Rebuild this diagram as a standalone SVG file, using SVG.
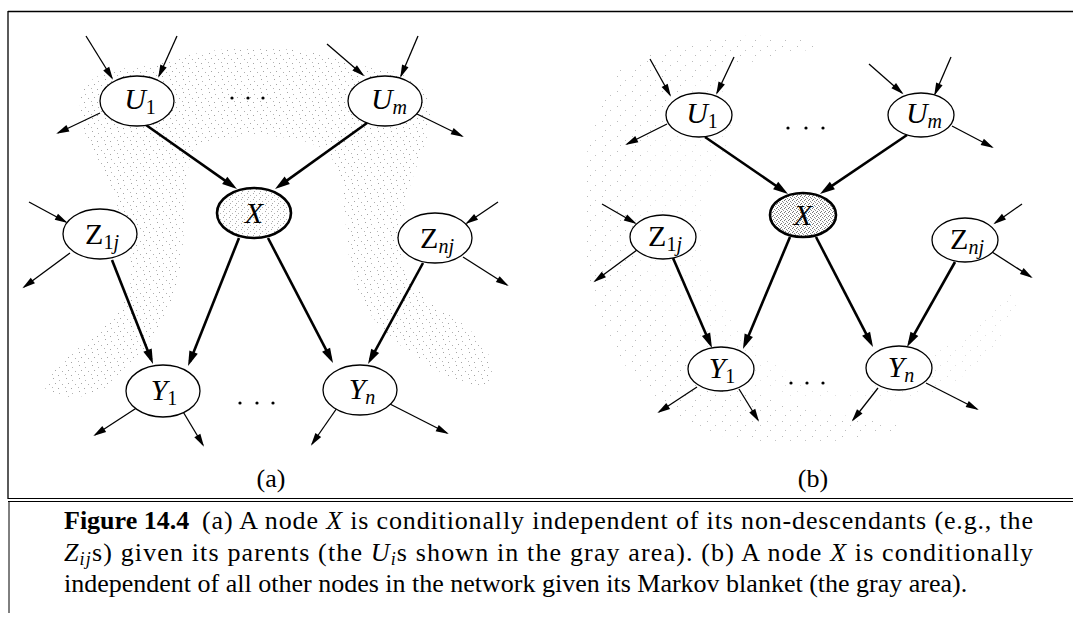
<svg xmlns="http://www.w3.org/2000/svg" width="1073" height="617" viewBox="0 0 1073 617">
<style>
.e{fill:#fff;stroke:#000;stroke-width:1.3}
.ex{stroke:#000;stroke-width:2.6}
.t{fill:none;stroke:#000;stroke-width:1.3;marker-end:url(#as)}
.k{fill:none;stroke:#000;stroke-width:2.6;marker-end:url(#al)}
.lbl{font-family:"Liberation Serif","Times New Roman",serif;font-size:30px;fill:#000}
.sub{font-size:20px}
.it{font-style:italic}
.cap{font-family:"Liberation Serif","Times New Roman",serif;font-size:26px;fill:#000}
.rule{stroke:#000;stroke-width:1.3;fill:none}
</style>
<defs>
<marker id="as" markerUnits="userSpaceOnUse" markerWidth="14" markerHeight="8" refX="11" refY="3.5" orient="auto" overflow="visible">
<path d="M0,0 L13,3.5 L0,7 z" fill="#000"/>
</marker>
<marker id="al" markerUnits="userSpaceOnUse" markerWidth="16" markerHeight="10" refX="10" refY="4.5" orient="auto" overflow="visible">
<path d="M0,0 L15,4.5 L0,9 z" fill="#000"/>
</marker>
<pattern id="pa" width="13" height="13" patternUnits="userSpaceOnUse">
<rect x="1" y="1" width="1" height="1" fill="#a5a5a5"/>
<rect x="7" y="3" width="1" height="1" fill="#b5b5b5"/>
<rect x="3" y="6" width="1" height="1" fill="#a5a5a5"/>
<rect x="10" y="7" width="1" height="1" fill="#b0b0b0"/>
<rect x="0" y="10" width="1" height="1" fill="#b5b5b5"/>
<rect x="6" y="11" width="1" height="1" fill="#a5a5a5"/>
</pattern>
<pattern id="pb" width="15" height="15" patternUnits="userSpaceOnUse">
<rect x="2" y="1" width="1" height="1" fill="#bbb"/>
<rect x="10" y="5" width="1" height="1" fill="#c2c2c2"/>
<rect x="5" y="10" width="1" height="1" fill="#bbb"/>
</pattern>
<pattern id="px" width="4" height="4" patternUnits="userSpaceOnUse">
<rect width="4" height="4" fill="#fff"/>
<rect x="0" y="0" width="1" height="1" fill="#777"/>
<rect x="2" y="1" width="1" height="1" fill="#888"/>
<rect x="1" y="3" width="1" height="1" fill="#777"/>
<rect x="3" y="2" width="1" height="1" fill="#999"/>
</pattern>
<pattern id="pxa" width="6" height="6" patternUnits="userSpaceOnUse">
<rect width="6" height="6" fill="#fff"/>
<rect x="1" y="1" width="1" height="1" fill="#aaa"/>
<rect x="4" y="3" width="1" height="1" fill="#b5b5b5"/>
<rect x="2" y="5" width="1" height="1" fill="#aaa"/>
</pattern>
</defs>

<!-- frame -->
<g id="frame">
<line class="rule" x1="8" y1="11.5" x2="1073" y2="11.5"/>
<line class="rule" x1="8" y1="11" x2="8" y2="499"/>
<line x1="8" y1="498.5" x2="1073" y2="498.5" stroke="#000" stroke-width="1"/>
<line x1="8" y1="501.5" x2="1073" y2="501.5" stroke="#000" stroke-width="1"/>
<line x1="9" y1="501" x2="9" y2="613" stroke="#000" stroke-width="1"/>
</g>

<!-- gray areas -->
<g id="gray-a">
<path fill="url(#pa)" d="M45,390 C50,360 100,340 125,300 C140,270 125,230 112,190 C100,160 82,140 80,110 C78,80 100,68 150,66 C175,62 185,50 250,48 C320,48 340,58 360,66 C410,70 432,85 430,120 C428,150 405,180 402,230 C400,270 410,290 450,315 C480,335 498,355 490,385 C470,390 430,370 400,345 C375,325 355,300 348,250 C343,200 345,170 325,150 C300,132 220,130 195,150 C180,170 190,220 178,280 C168,320 150,350 110,385 C90,400 60,400 45,390 Z"/>
</g>
<g id="gray-b">
<path fill="url(#pb)" d="M830,45 C780,30 680,30 620,70 C580,110 580,200 590,290 C600,350 650,400 700,430 C760,450 860,445 910,425 C870,420 800,410 760,395 C700,370 650,310 640,270 C620,200 640,120 700,80 C740,60 790,55 830,45 Z"/>
<path fill="url(#pb)" d="M640,60 C700,50 760,90 720,160 C700,200 690,260 740,330 C780,380 860,420 940,390 C1000,360 1030,300 1010,290 C980,320 900,400 800,400 C700,380 640,300 620,200 Z" opacity="0.5"/>
</g>

<!-- connectors -->
<g id="connectors">
<line class="k" x1="146" y1="125" x2="232.9" y2="186.1"/>
<line class="k" x1="367" y1="123" x2="279.1" y2="186.1"/>
<line class="k" x1="112" y1="260" x2="151.2" y2="359.4"/>
<line class="k" x1="239" y1="238" x2="189.9" y2="361.4"/>
<line class="k" x1="268" y1="238" x2="330.7" y2="358.6"/>
<line class="k" x1="423" y1="263" x2="370.4" y2="359.6"/>
<line class="t" x1="86" y1="36" x2="112" y2="78"/>
<line class="t" x1="177" y1="36" x2="159" y2="76"/>
<line class="t" x1="100" y1="113" x2="58" y2="133"/>
<line class="t" x1="327" y1="44" x2="363" y2="75"/>
<line class="t" x1="418" y1="36" x2="401" y2="76"/>
<line class="t" x1="417" y1="114" x2="462" y2="136"/>
<line class="t" x1="29" y1="202" x2="66" y2="222"/>
<line class="t" x1="70" y1="253" x2="24" y2="287"/>
<line class="t" x1="498" y1="202" x2="467" y2="223"/>
<line class="t" x1="463" y1="257" x2="507" y2="285"/>
<line class="t" x1="138" y1="407" x2="95" y2="435"/>
<line class="t" x1="182" y1="410" x2="203" y2="445"/>
<line class="t" x1="337" y1="408" x2="312" y2="444"/>
<line class="t" x1="388" y1="403" x2="447" y2="433"/>
<line class="k" x1="705" y1="137" x2="783.9" y2="191.2"/>
<line class="k" x1="907" y1="135" x2="824.1" y2="191.2"/>
<line class="k" x1="673" y1="258" x2="710" y2="343.4"/>
<line class="k" x1="790" y1="237" x2="744.9" y2="344.4"/>
<line class="k" x1="816" y1="237" x2="870.7" y2="342.6"/>
<line class="k" x1="955" y1="262" x2="909.5" y2="342.6"/>
<line class="t" x1="650" y1="59" x2="670" y2="95"/>
<line class="t" x1="734" y1="57" x2="717" y2="93"/>
<line class="t" x1="667" y1="124" x2="627" y2="144"/>
<line class="t" x1="869" y1="64" x2="902" y2="93"/>
<line class="t" x1="951" y1="57" x2="935" y2="94"/>
<line class="t" x1="952" y1="126" x2="992" y2="147"/>
<line class="t" x1="602" y1="204" x2="635" y2="223"/>
<line class="t" x1="637" y1="250" x2="595" y2="281"/>
<line class="t" x1="1022" y1="204" x2="995" y2="223"/>
<line class="t" x1="992" y1="252" x2="1031" y2="277"/>
<line class="t" x1="697" y1="387" x2="659" y2="412"/>
<line class="t" x1="739" y1="389" x2="758" y2="420"/>
<line class="t" x1="878" y1="388" x2="853" y2="420"/>
<line class="t" x1="926" y1="383" x2="977" y2="409"/>
</g>

<!-- panel a nodes -->
<g id="a-U1"><ellipse class="e" cx="137" cy="101" rx="37" ry="25"/>
<text class="lbl" x="140" y="109" text-anchor="middle"><tspan class="it">U</tspan><tspan class="sub" dy="5">1</tspan></text></g>
<g id="a-Um"><ellipse class="e" cx="385" cy="101" rx="37" ry="25"/>
<text class="lbl" x="389" y="109" text-anchor="middle"><tspan class="it">U</tspan><tspan class="sub it" dy="5">m</tspan></text></g>
<g id="a-X"><ellipse class="ex" fill="url(#pxa)" cx="254" cy="213" rx="37" ry="25"/>
<text class="lbl it" x="254" y="223" text-anchor="middle">X</text></g>
<g id="a-Z1j"><ellipse class="e" cx="100" cy="234" rx="37" ry="25"/>
<text class="lbl" x="102" y="244" text-anchor="middle">Z<tspan class="sub" dy="5">1</tspan><tspan class="sub it">j</tspan></text></g>
<g id="a-Znj"><ellipse class="e" cx="435" cy="238" rx="37" ry="25"/>
<text class="lbl" x="437" y="248" text-anchor="middle">Z<tspan class="sub it" dy="5">nj</tspan></text></g>
<g id="a-Y1"><ellipse class="e" cx="163" cy="391" rx="37" ry="26"/>
<text class="lbl" x="164" y="400" text-anchor="middle"><tspan class="it">Y</tspan><tspan class="sub" dy="5">1</tspan></text></g>
<g id="a-Yn"><ellipse class="e" cx="360" cy="390" rx="37" ry="25"/>
<text class="lbl" x="362" y="399" text-anchor="middle"><tspan class="it">Y</tspan><tspan class="sub it" dy="5">n</tspan></text></g>
<g id="a-dots" fill="#000">
<circle cx="232" cy="98" r="1.6"/><circle cx="248" cy="98" r="1.6"/><circle cx="263" cy="98" r="1.6"/>
<circle cx="240" cy="403" r="1.6"/><circle cx="257" cy="403" r="1.6"/><circle cx="273" cy="403" r="1.6"/>
</g>
<text class="cap" x="271" y="487" text-anchor="middle">(a)</text>

<!-- panel b nodes -->
<g id="b-U1"><ellipse class="e" cx="699" cy="115" rx="33" ry="22"/>
<text class="lbl" x="702" y="123" text-anchor="middle"><tspan class="it">U</tspan><tspan class="sub" dy="5">1</tspan></text></g>
<g id="b-Um"><ellipse class="e" cx="921" cy="115" rx="33" ry="22"/>
<text class="lbl" x="924" y="123" text-anchor="middle"><tspan class="it">U</tspan><tspan class="sub it" dy="5">m</tspan></text></g>
<g id="b-X"><ellipse class="ex" fill="url(#px)" cx="803" cy="215" rx="33" ry="22"/>
<text class="lbl it" x="803" y="225" text-anchor="middle">X</text></g>
<g id="b-Z1j"><ellipse class="e" cx="663" cy="237" rx="33" ry="22"/>
<text class="lbl" x="665" y="246" text-anchor="middle">Z<tspan class="sub" dy="5">1</tspan><tspan class="sub it">j</tspan></text></g>
<g id="b-Znj"><ellipse class="e" cx="965" cy="240" rx="33" ry="22"/>
<text class="lbl" x="967" y="249" text-anchor="middle">Z<tspan class="sub it" dy="5">nj</tspan></text></g>
<g id="b-Y1"><ellipse class="e" cx="721" cy="369" rx="33" ry="22"/>
<text class="lbl" x="722" y="378" text-anchor="middle"><tspan class="it">Y</tspan><tspan class="sub" dy="5">1</tspan></text></g>
<g id="b-Yn"><ellipse class="e" cx="899" cy="368" rx="33" ry="22"/>
<text class="lbl" x="901" y="377" text-anchor="middle"><tspan class="it">Y</tspan><tspan class="sub it" dy="5">n</tspan></text></g>
<g id="b-dots" fill="#000">
<circle cx="788" cy="128" r="1.6"/><circle cx="806" cy="128" r="1.6"/><circle cx="823" cy="128" r="1.6"/>
<circle cx="791" cy="383" r="1.6"/><circle cx="807" cy="383" r="1.6"/><circle cx="823" cy="383" r="1.6"/>
</g>
<text class="cap" x="813" y="487" text-anchor="middle">(b)</text>

<!-- caption -->
<g id="caption" class="cap">
<text x="64" y="529" font-weight="bold">Figure 14.4</text>
<text x="202" y="529" textLength="831" lengthAdjust="spacing">(a) A node <tspan class="it">X</tspan> is conditionally independent of its non-descendants (e.g., the</text>
<text x="64" y="561" textLength="969" lengthAdjust="spacing"><tspan class="it">Z</tspan><tspan class="it" font-size="18" dy="4">ij</tspan><tspan dy="-4">s) given its parents (the </tspan><tspan class="it">U</tspan><tspan class="it" font-size="18" dy="4">i</tspan><tspan dy="-4">s shown in the gray area).  (b) A node </tspan><tspan class="it">X</tspan> is conditionally</text>
<text x="64" y="592">independent of all other nodes in the network given its Markov blanket (the gray area).</text>
</g>
</svg>
